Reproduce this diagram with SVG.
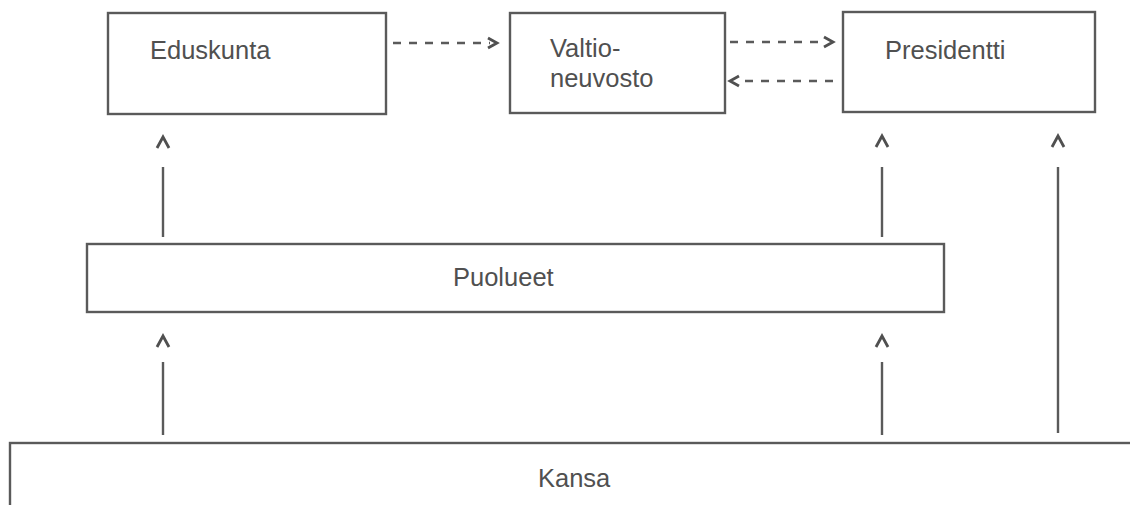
<svg xmlns="http://www.w3.org/2000/svg" width="1130" height="505" viewBox="0 0 1130 505">
  <style>
    .box { fill: #ffffff; stroke: #5a5a5a; stroke-width: 2.4; }
    .label { font-family: "Liberation Sans", Arial, sans-serif; font-size: 25.5px; fill: #505050; }
    .link { fill: none; stroke: #5a5a5a; stroke-width: 2.4; }
    .dash { fill: none; stroke: #5a5a5a; stroke-width: 2.4; stroke-dasharray: 8 8; }
    .head { fill: none; stroke: #505050; stroke-width: 2.8; stroke-linejoin: miter; }
  </style>
  <rect width="1130" height="505" fill="#ffffff"/>

  <g id="eduskunta">
    <rect class="box" x="108" y="13" width="278" height="101"/>
    <text class="label" x="150" y="59">Eduskunta</text>
  </g>

  <g id="valtioneuvosto">
    <rect class="box" x="510" y="13" width="215" height="100"/>
    <text class="label" x="550" y="57">Valtio-</text>
    <text class="label" x="550" y="87">neuvosto</text>
  </g>

  <g id="presidentti">
    <rect class="box" x="843" y="12" width="252" height="100"/>
    <text class="label" x="885" y="59">Presidentti</text>
  </g>

  <g id="puolueet">
    <rect class="box" x="87" y="244" width="857" height="68"/>
    <text class="label" x="453" y="286">Puolueet</text>
  </g>

  <g id="kansa">
    <rect class="box" x="10" y="443" width="1140" height="80"/>
    <text class="label" x="538" y="487">Kansa</text>
  </g>

  <g id="connectors">
    <!-- dashed links between the top row -->
    <line class="dash" x1="393" y1="43" x2="490" y2="43"/>
    <polyline class="head" points="488,38 497,43 488,48"/>
    <line class="dash" x1="730" y1="42" x2="826" y2="42"/>
    <polyline class="head" points="824,37 833,42 824,47"/>
    <line class="dash" x1="833" y1="81" x2="737" y2="81"/>
    <polyline class="head" points="739,76 730,81 739,86"/>

    <!-- Puolueet up to Eduskunta and Presidentti -->
    <line class="link" x1="163" y1="167" x2="163" y2="237"/>
    <polyline class="head" points="157,148 163,137 169,148"/>
    <line class="link" x1="882" y1="167" x2="882" y2="237"/>
    <polyline class="head" points="876,147 882,136 888,147"/>

    <!-- Kansa up to Puolueet -->
    <line class="link" x1="163" y1="362" x2="163" y2="435"/>
    <polyline class="head" points="157,347 163,336 169,347"/>
    <line class="link" x1="882" y1="362" x2="882" y2="435"/>
    <polyline class="head" points="876,347 882,336 888,347"/>

    <!-- Kansa directly up to Presidentti -->
    <line class="link" x1="1058" y1="167" x2="1058" y2="433"/>
    <polyline class="head" points="1052,147 1058,136 1064,147"/>
  </g>
</svg>
